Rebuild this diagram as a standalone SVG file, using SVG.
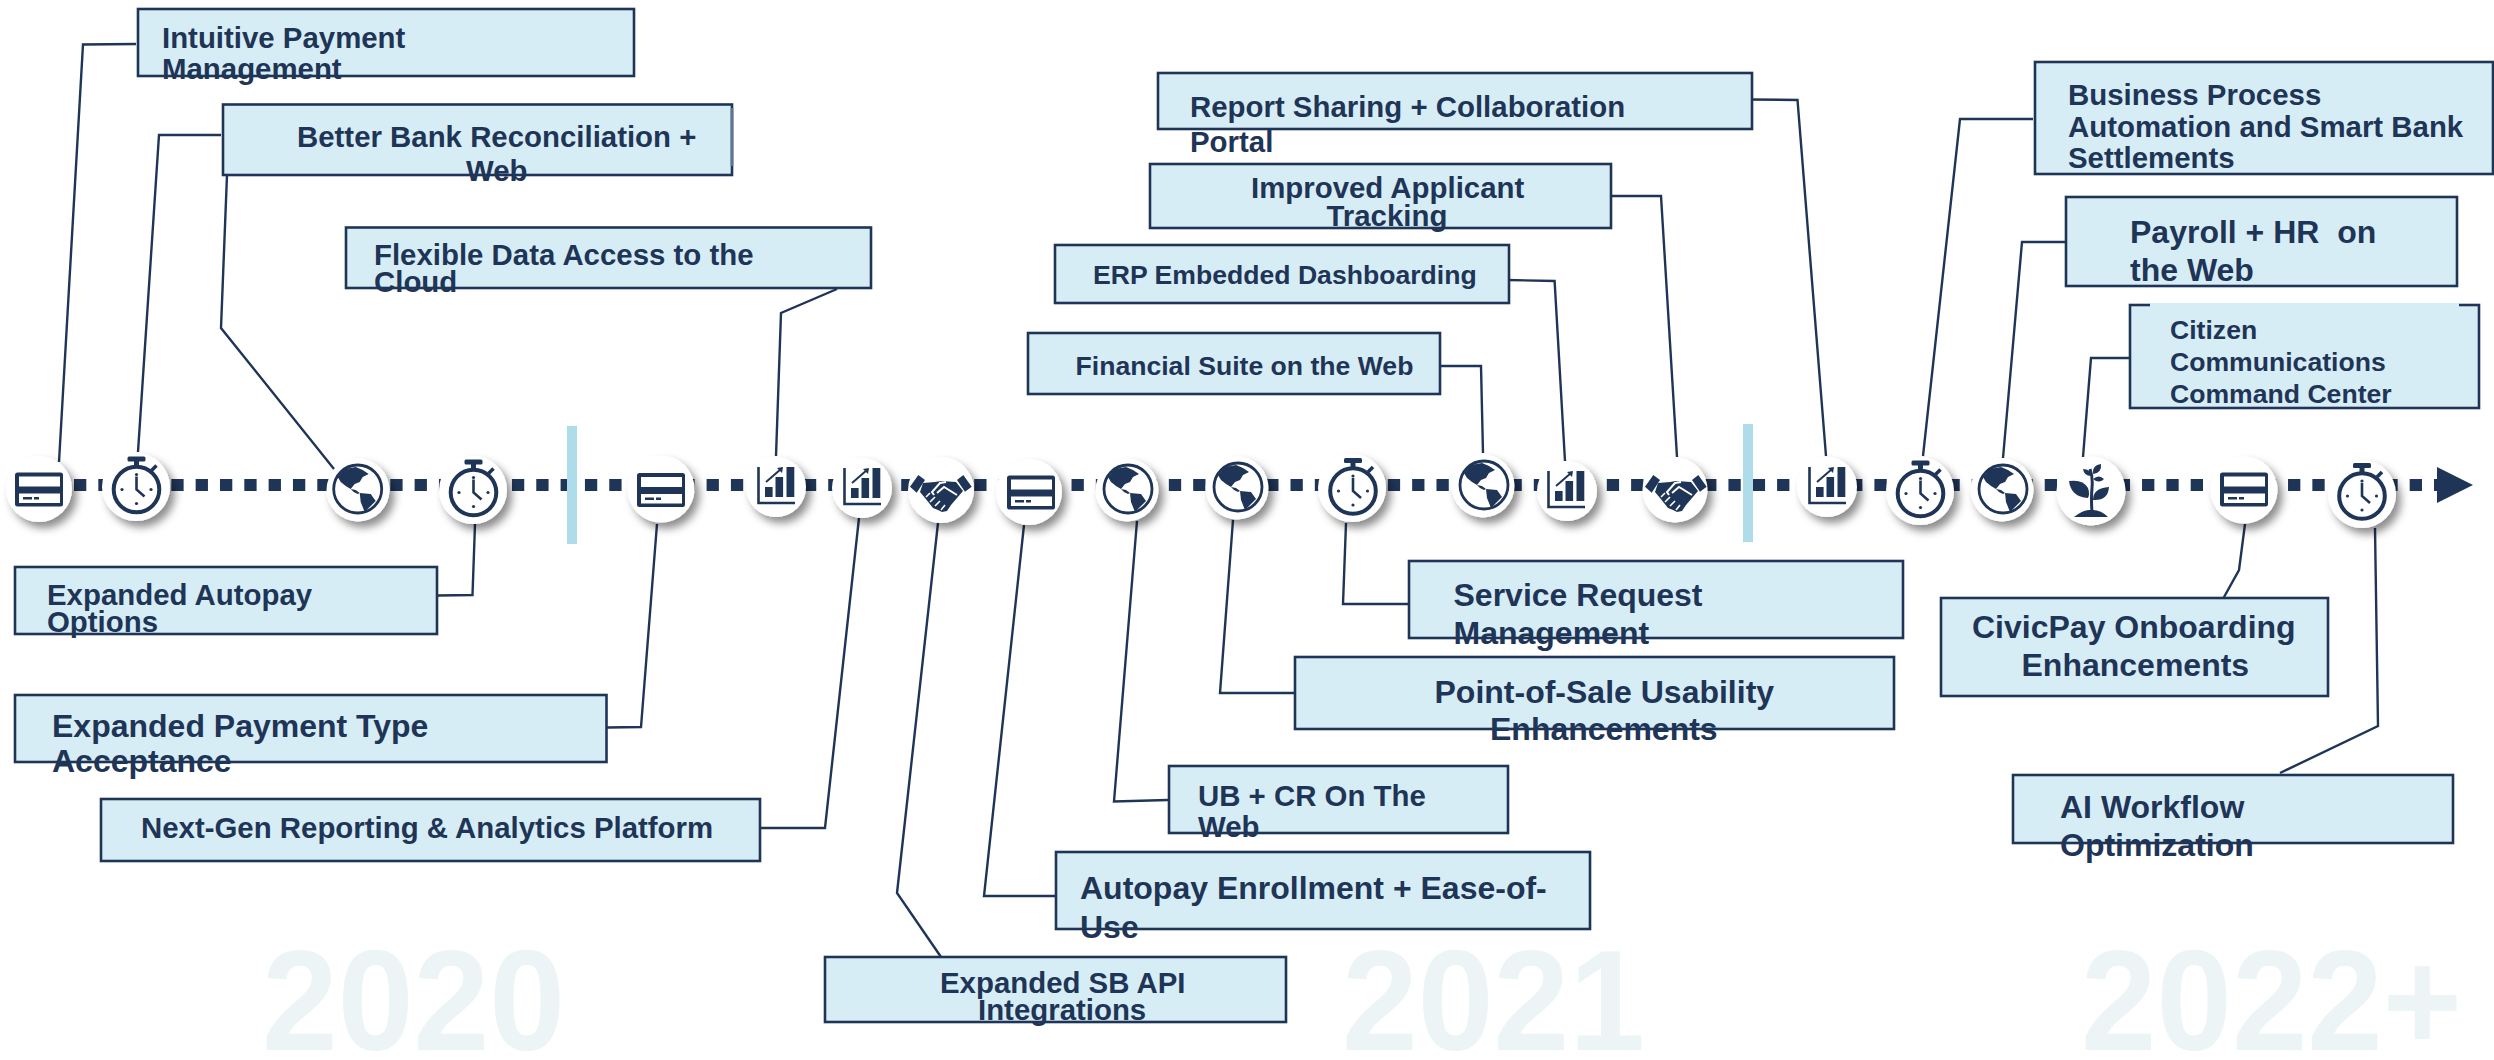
<svg xmlns="http://www.w3.org/2000/svg" xmlns:xlink="http://www.w3.org/1999/xlink" width="2494" height="1060" viewBox="0 0 2494 1060">
<style>
.box{fill:#d7edf5;stroke:#1f3557;stroke-width:2.6}
.t{font-family:"Liberation Sans",Arial,sans-serif;font-weight:700;fill:#1f3557;white-space:pre}
.s26{font-size:26.6px}.s29{font-size:29.4px}.s32{font-size:32px}
.yr{font-family:"Liberation Sans",Arial,sans-serif;font-weight:700;font-size:142px;fill:#ecf4f6}
.c{fill:none;stroke:#1f3557;stroke-width:2.4;stroke-linejoin:miter}
.bar{fill:#aedce9}
.disc{fill:#fff;filter:url(#sh)}
.n{fill:#1f3557}.w{fill:#fff}
.ns{fill:none;stroke:#1f3557}.ws{fill:none;stroke:#fff}
</style>
<defs>
<filter id="sh" x="-40%" y="-40%" width="190%" height="190%"><feDropShadow dx="5" dy="6" stdDeviation="4" flood-color="#000" flood-opacity="0.45"/></filter>
<g id="card"><rect class="n" x="-24" y="-17" width="48" height="34" rx="2.5"/><rect class="w" x="-20" y="-13" width="41" height="10"/><rect class="w" x="-20" y="4" width="41" height="9.5"/><rect class="n" x="-16" y="7.5" width="9" height="2.5"/><rect class="n" x="-5" y="7.5" width="5" height="2.5"/></g>
<g id="watch"><circle class="ns" cx="0" cy="2" r="22.8" stroke-width="4"/><rect class="n" x="-9" y="-31" width="18" height="5" rx="1.5"/><rect class="n" x="-2.5" y="-27" width="5" height="7"/><path class="ns" stroke-width="3.5" d="M15,-17L20,-22"/><path class="ns" stroke-width="2.6" d="M0,-11V2L8,9"/><circle class="n" cx="0" cy="-13" r="1.6"/><circle class="n" cx="0" cy="16" r="1.6"/><circle class="n" cx="-14.500" cy="2" r="1.6"/><circle class="n" cx="14.500" cy="2" r="1.6"/></g>
<g id="globe"><circle class="ns" cx="0" cy="0" r="24" stroke-width="2.8"/><path class="n" d="M-20,-12L-13,-20L-2,-22L5,-19L11,-15L5,-12L2,-7L-3,-5L-7,0L-12,-3L-17,-7Z"/><path class="n" d="M-7,0L-2,1L2,4L0,5L-4,3Z"/><path class="n" d="M2,4L13,5L18,12L12,18L7,23L3,13Z"/></g>
<g id="chart"><path class="ns" stroke-width="2.6" d="M-17.500,-20V16H19"/><rect class="n" x="-11" y="0" width="7.600" height="10"/><rect class="n" x="-0.500" y="-10" width="7.600" height="20"/><rect class="n" x="10.500" y="-20" width="7.800" height="30"/><path class="ns" stroke-width="2" d="M-10,-5L5,-18"/><path class="n" d="M7,-20L1,-19L6,-14Z"/></g>
<g id="shake"><path class="n" d="M-31,-3.300L-22.700,-15L-16,-10L-24.300,2.700Z"/><path class="n" d="M30.700,-3.300L22.300,-15L16,-10L24,1.700Z"/><path class="n" d="M-18,-7L-6,-8L0,-9L15,-8L22,1L10,15L6,21L1,22L-3,20L-8,18L-12,13L-16,8L-21,2Z"/><path class="ws" stroke-width="2" d="M-7,5L-9,2L-1,-7L5,-8M-4,3L3,-3L16,5"/><path class="ws" stroke-width="1.6" d="M-15,7L-11,3M-11,12L-6,7M-6,16L-1,11M0,20L4,15"/></g>
<g id="plant"><path class="n" d="M-17,26Q-8,19 -2,19H2Q10,19 17,26Z"/><path class="ns" stroke-width="3" d="M1,21Q0,8 1,-3Q2,-14 -1,-22"/><path class="n" d="M-22,-10Q-8,-12 -3,-3Q-1,3 -3,7Q-20,6 -22,-10Z"/><path class="n" d="M18,-4Q17,10 2,9Q2,-3 18,-4Z"/><path class="n" d="M-8,-22Q0,-22 0,-15Q-7,-15 -8,-22Z"/><path class="n" d="M10,-27Q11,-18 2,-17Q1,-26 10,-27Z"/><path class="n" d="M13,-12Q8,-7 2,-12Q8,-17 13,-12Z"/></g>
</defs>
<rect width="2494" height="1060" fill="#fff"/>
<g id="years">
<text class="yr" x="262" y="1050" textLength="303" lengthAdjust="spacingAndGlyphs">2020</text>
<text class="yr" x="1342" y="1050" textLength="303" lengthAdjust="spacingAndGlyphs">2021</text>
<text class="yr" x="2081" y="1050" textLength="381" lengthAdjust="spacingAndGlyphs">2022+</text>
</g>
<g id="timeline">
<line x1="49.670" y1="485" x2="2440" y2="485" stroke="#1f3557" stroke-width="12" stroke-dasharray="12.300 12.030"/>
<path class="n" d="M2437,467L2473,485L2437,503Z"/>
<rect class="bar" x="567" y="426" width="10" height="118"/>
<rect class="bar" x="1743" y="424" width="10" height="118"/>
</g>
<g id="connectors">
<path class="c" d="M136,44L83,44.500L59,462"/>
<path class="c" d="M221,135L159,135L138,452"/>
<path class="c" d="M227,175L221,328L334,469"/>
<path class="c" d="M837,289L781,313L776,456"/>
<path class="c" d="M437,595.500L472.500,595L475,524"/>
<path class="c" d="M607,727.500L641,727L657,524"/>
<path class="c" d="M761,828H825L859,518"/>
<path class="c" d="M938,523L897,893L941,957"/>
<path class="c" d="M1056,896H984L1024,525"/>
<path class="c" d="M1168,800L1114,801.500L1137,521"/>
<path class="c" d="M1295,693H1220L1233,520"/>
<path class="c" d="M1409,604H1343L1346,523"/>
<path class="c" d="M2223.500,598L2239,570L2245,524"/>
<path class="c" d="M2280,773L2378,726L2375,528"/>
<path class="c" d="M2033,119H1960L1923,456"/>
<path class="c" d="M2065,242H2022L2003,458"/>
<path class="c" d="M2129,358H2091L2083,457"/>
<path class="c" d="M1750,99.500L1797.500,100L1826,456"/>
<path class="c" d="M1611,196H1661L1677,457"/>
<path class="c" d="M1507,280L1554.600,281L1565,461"/>
<path class="c" d="M1440,366H1481L1483,453"/>
</g>
<g id="icon-1"><circle class="disc" cx="39" cy="489" r="33"/><use href="#card" x="39" y="489.500"/></g>
<g id="icon-2"><circle class="disc" cx="136" cy="487" r="34"/><use href="#watch" x="136.500" y="487.500"/></g>
<g id="icon-3"><circle class="disc" cx="358" cy="490" r="31.500"/><use href="#globe" x="357.700" y="489"/></g>
<g id="icon-4"><circle class="disc" cx="473" cy="490" r="34"/><use href="#watch" x="473.500" y="490.500"/></g>
<g id="icon-5"><circle class="disc" cx="661" cy="489" r="33.500"/><use href="#card" x="661" y="490"/></g>
<g id="icon-6"><circle class="disc" cx="776" cy="487" r="30"/><use href="#chart" x="776" y="487"/></g>
<g id="icon-7"><circle class="disc" cx="862" cy="488" r="30"/><use href="#chart" x="862" y="488"/></g>
<g id="icon-8"><circle class="disc" cx="941" cy="490" r="33"/><use href="#shake" x="941" y="490"/></g>
<g id="icon-9"><circle class="disc" cx="1029" cy="492" r="33"/><use href="#card" x="1031" y="492.500"/></g>
<g id="icon-10"><circle class="disc" cx="1127" cy="490" r="31.500"/><use href="#globe" x="1128" y="489"/></g>
<g id="icon-11"><circle class="disc" cx="1237" cy="488" r="31.500"/><use href="#globe" x="1238" y="487"/></g>
<g id="icon-12"><circle class="disc" cx="1352" cy="488" r="34"/><use href="#watch" x="1353" y="489"/></g>
<g id="icon-13"><circle class="disc" cx="1483" cy="486" r="31.500"/><use href="#globe" x="1484" y="485"/></g>
<g id="icon-14"><circle class="disc" cx="1567" cy="491" r="30"/><use href="#chart" x="1566" y="491"/></g>
<g id="icon-15"><circle class="disc" cx="1675" cy="490" r="32.500"/><use href="#shake" x="1676" y="490"/></g>
<g id="icon-16"><circle class="disc" cx="1827" cy="487" r="30"/><use href="#chart" x="1827" y="487"/></g>
<g id="icon-17"><circle class="disc" cx="1920" cy="491" r="34"/><use href="#watch" x="1920.500" y="491.500"/></g>
<g id="icon-18"><circle class="disc" cx="2002" cy="490" r="31.500"/><use href="#globe" x="2003" y="489"/></g>
<g id="icon-19"><circle class="disc" cx="2091" cy="491" r="34.500"/><use href="#plant" x="2091" y="491"/></g>
<g id="icon-20"><circle class="disc" cx="2244" cy="490" r="33.500"/><use href="#card" x="2244" y="489.500"/></g>
<g id="icon-21"><circle class="disc" cx="2362" cy="494" r="34"/><use href="#watch" x="2362" y="494"/></g>
<g id="n-intuitive"><rect class="box" x="138" y="9" width="496" height="67"/><text class="t s29" x="162" y="47.500">Intuitive Payment</text><text class="t s29" x="162" y="78.500">Management</text></g>
<g id="n-bank"><rect class="box" x="223" y="104.500" width="509" height="70.500"/><line x1="732" y1="108" x2="732" y2="166" stroke="#5c7694" stroke-width="2.800"/><text class="t s29" x="297" y="147">Better Bank Reconciliation +</text><text class="t s29" x="466" y="181">Web</text></g>
<g id="n-flex"><rect class="box" x="346" y="227.500" width="525" height="60.500"/><text class="t s29" x="374" y="264.500">Flexible Data Access to the</text><text class="t s29" x="374" y="292">Cloud</text></g>
<g id="n-autopay"><rect class="box" x="15" y="567" width="422" height="67"/><text class="t s29" x="47" y="605">Expanded Autopay</text><text class="t s29" x="47" y="632">Options</text></g>
<g id="n-paytype"><rect class="box" x="15" y="695" width="591.500" height="67"/><text class="t s32" x="52" y="737">Expanded Payment Type</text><text class="t s32" x="52" y="772">Acceptance</text></g>
<g id="n-nextgen"><rect class="box" x="101" y="799" width="659" height="62"/><text class="t s29" x="141" y="838">Next-Gen Reporting &amp; Analytics Platform</text></g>
<g id="n-sbapi"><rect class="box" x="825" y="957" width="461" height="65"/><text class="t s29" x="940" y="992.500">Expanded SB API</text><text class="t s29" x="978" y="1020">Integrations</text></g>
<g id="n-enroll"><rect class="box" x="1056" y="852" width="534" height="77"/><text class="t s32" x="1080" y="899">Autopay Enrollment + Ease-of-</text><text class="t s32" x="1080" y="938">Use</text></g>
<g id="n-ubcr"><rect class="box" x="1169" y="766" width="339" height="67"/><text class="t s29" x="1198" y="806">UB + CR On The</text><text class="t s29" x="1198" y="837">Web</text></g>
<g id="n-pos"><rect class="box" x="1295" y="657" width="599" height="72"/><text class="t s32" x="1434.500" y="702.500">Point-of-Sale Usability</text><text class="t s32" x="1490" y="740">Enhancements</text></g>
<g id="n-service"><rect class="box" x="1409" y="561" width="494" height="77"/><text class="t s32" x="1453.500" y="606">Service Request</text><text class="t s32" x="1453.500" y="644">Management</text></g>
<g id="n-civic"><rect class="box" x="1941" y="598" width="387" height="98"/><text class="t s32" x="1972" y="638">CivicPay Onboarding</text><text class="t s32" x="2021.500" y="676">Enhancements</text></g>
<g id="n-ai"><rect class="box" x="2013" y="775" width="440" height="68"/><text class="t s32" x="2060" y="818">AI Workflow</text><text class="t s32" x="2060" y="856">Optimization</text></g>
<g id="n-bpa"><rect class="box" x="2035" y="62" width="458" height="112"/><text class="t s29" x="2068" y="105">Business Process</text><text class="t s29" x="2068" y="137">Automation and Smart Bank</text><text class="t s29" x="2068" y="168">Settlements</text></g>
<g id="n-payroll"><rect class="box" x="2066" y="197" width="391" height="89"/><text class="t s32" x="2130" y="243">Payroll + HR  on</text><text class="t s32" x="2130" y="280.500">the Web</text></g>
<g id="n-citizen"><rect class="box" x="2130" y="305" width="349" height="103"/><rect x="2150" y="303" width="309" height="4" fill="#d7edf5"/><text class="t s26" x="2170" y="339">Citizen</text><text class="t s26" x="2170" y="371">Communications</text><text class="t s26" x="2170" y="403">Command Center</text></g>
<g id="n-report"><rect class="box" x="1158" y="73" width="594" height="56"/><text class="t s29" x="1190" y="116.500">Report Sharing + Collaboration</text><text class="t s29" x="1190" y="152">Portal</text></g>
<g id="n-applicant"><rect class="box" x="1150" y="164" width="461" height="64"/><text class="t s29" x="1251" y="198">Improved Applicant</text><text class="t s29" x="1326.500" y="225.500">Tracking</text></g>
<g id="n-erp"><rect class="box" x="1055" y="245" width="454" height="58"/><text class="t s26" x="1093" y="284">ERP Embedded Dashboarding</text></g>
<g id="n-fin"><rect class="box" x="1028" y="333" width="412" height="61"/><text class="t s26" x="1075.500" y="375">Financial Suite on the Web</text></g>
</svg>
